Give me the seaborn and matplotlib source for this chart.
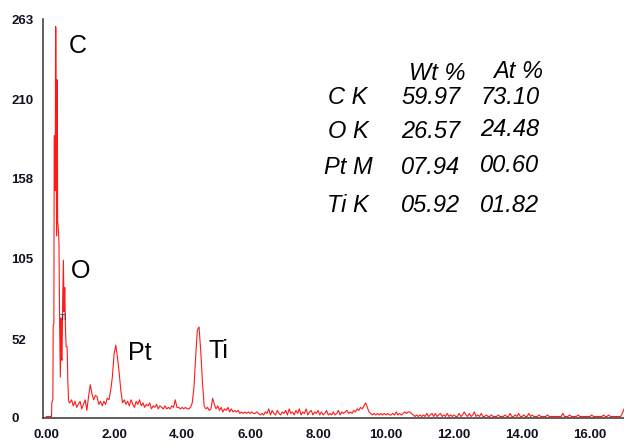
import numpy as np
import pandas as pd
import matplotlib.pyplot as plt
import seaborn as sns

# EDS spectrum
# low-energy part (C K / Ti L / O K peaks), read point by point
energy_low = [0.00, 0.10, 0.16, 0.17, 0.20, 0.21, 0.23, 0.24, 0.26, 0.27, 0.28, 0.29,
              0.30, 0.31, 0.32, 0.33, 0.34, 0.36, 0.38, 0.40, 0.42, 0.44, 0.45, 0.47,
              0.49, 0.51, 0.53, 0.55, 0.57, 0.59, 0.62, 0.64, 0.66, 0.68]
counts_low = [1, 1, 1, 10, 12, 61, 62, 186, 186, 150, 258, 257,
              180, 120, 223, 222, 130, 125, 115, 60, 27, 66, 40, 38,
              80, 104, 70, 86, 60, 47, 47, 25, 12, 10]

# from 0.70 keV on: one value per 0.05 keV channel
counts_tail = [
    10, 12, 8, 11, 7, 9,
    11, 6, 9, 12, 5, 14, 22, 16, 12, 15, 14, 9, 11, 8, 11, 9, 13, 12, 18, 27,
    42, 48, 40, 30, 18, 10, 12, 9, 11, 8, 12, 9, 7, 11, 9, 12, 8, 10, 7, 9,
    8, 10, 6, 8, 7, 9, 6, 8, 7, 6, 8, 6, 7, 6, 8, 7, 12, 7, 7, 6,
    7, 6, 7, 6, 6, 7, 10, 20, 40, 58, 60, 44, 24, 8, 6, 7, 5, 6, 13, 9,
    6, 8, 5, 7, 4, 6, 5, 7, 4, 6, 4, 5, 4, 5, 3, 4, 3, 4, 3, 4,
    3, 4, 3, 3, 4, 3, 2, 3, 2, 4, 3, 6, 2, 5, 3, 2, 5, 3, 2, 4,
    3, 5, 2, 6, 3, 4, 2, 5, 3, 6, 2, 4, 3, 6, 2, 4, 5, 2, 4, 3,
    5, 2, 4, 2, 3, 5, 2, 3, 2, 4, 2, 3, 5, 2, 4, 3, 4, 5, 3, 4,
    3, 5, 4, 6, 5, 7, 6, 8, 10, 7, 4, 3, 2, 3, 2, 3, 2, 3, 2, 3,
    2, 3, 2, 2, 3, 2, 4, 2, 3, 2, 3, 4, 3, 4, 4, 3, 2, 1, 2, 1,
    2, 1, 2, 1, 3, 1, 2, 3, 1, 3, 1, 2, 3, 1, 2, 1, 3, 1, 2, 1,
    2, 1, 1, 3, 1, 2, 4, 2, 1, 3, 1, 2, 4, 1, 2, 1, 3, 1, 1, 2,
    1, 1, 2, 1, 1, 1, 2, 1, 1, 1, 2, 1, 1, 3, 1, 1, 2, 1, 3, 1,
    1, 2, 1, 1, 3, 1, 2, 1, 1, 1, 2, 1, 1, 1, 1, 2, 1, 1, 1, 1,
    1, 1, 1, 1, 3, 1, 1, 1, 2, 1, 1, 1, 1, 2, 1, 1, 1, 1, 1, 1,
    1, 2, 1, 1, 1, 1, 1, 1, 2, 1, 1, 2, 1, 1, 1, 1, 1, 1, 1, 3, 6,
]
energy_tail = np.round(0.70 + 0.05 * np.arange(len(counts_tail)), 2)

x_ticks = [0, 2, 4, 6, 8, 10, 12, 14, 16]
y_ticks = [0, 52, 105, 158, 210, 263]

# quantification table
elements = ["C K", "O K", "Pt M", "Ti K"]
wt_pct = ["59.97", "26.57", "07.94", "05.92"]
at_pct = ["73.10", "24.48", "00.60", "01.82"]

# peak labels: (text, energy, counts)
peak_labels = [("C", 0.94, 245), ("O", 1.01, 97), ("Pt", 2.76, 43), ("Ti", 5.06, 44)]

spec = pd.DataFrame({
    "energy": np.concatenate([energy_low, energy_tail]),
    "counts": np.concatenate([counts_low, counts_tail]),
})

sns.set_style("white")
plt.rcParams["font.family"] = ["Liberation Sans", "DejaVu Sans"]

fig = plt.figure(figsize=(6.24, 4.46), dpi=100)
ax = fig.add_axes([43 / 624, 28 / 446, 581 / 624, 399 / 446])

sns.lineplot(data=spec, x="energy", y="counts", color="#ff1a1a", linewidth=0.8,
             estimator=None, sort=False, ax=ax)

ax.set_xlim(-0.09, 17.0)
ax.set_ylim(0, 263)
ax.set_xticks(x_ticks)
ax.set_xticklabels([f"{v:.2f}" for v in x_ticks])
ax.set_yticks(y_ticks)
ax.set_yticklabels([str(v) for v in y_ticks])
ax.set_xlabel("")
ax.set_ylabel("")

for side in ["top", "right"]:
    ax.spines[side].set_visible(False)
for side in ["left", "bottom"]:
    ax.spines[side].set_color("#333333")
    ax.spines[side].set_linewidth(1.1)

ax.tick_params(axis="x", length=4.5, width=1, color="#333333", pad=3.5,
               labelsize=9.5, labelcolor="#111122")
ax.tick_params(axis="y", length=5, width=1, color="#333333", pad=18,
               labelsize=9.5, labelcolor="#111122")
for lab in ax.get_yticklabels():
    lab.set_ha("left")
    lab.set_fontweight("bold")
for lab in ax.get_xticklabels():
    lab.set_fontweight("bold")

# peak labels
for txt, ex, cy in peak_labels:
    ax.text(ex, cy, txt, fontsize=18, ha="center", va="center", color="black")
ax.text(0.5, 66, "Ti", fontsize=6.5, ha="center", va="center", color="#1c2a5c")

# quantification table (axes fraction from pixel positions)
def ax_xy(px, py):
    return (px - 43) / 581, (418 - py) / 399

tbl_style = dict(fontsize=17, style="italic", ha="center", va="center",
                 transform=ax.transAxes, color="black")
ax.text(*ax_xy(437, 73), "Wt %", **tbl_style)
ax.text(*ax_xy(518, 71), "At %", **tbl_style)
row_y = [98, 131, 167, 206]
for name, wt, at, ry in zip(elements, wt_pct, at_pct, row_y):
    ax.text(*ax_xy(348, ry), name, **tbl_style)
    ax.text(*ax_xy(431, ry), wt, **tbl_style)
    ax.text(*ax_xy(510, ry - 1), at, **tbl_style)

plt.savefig("out.png", dpi=100)
plt.close()
